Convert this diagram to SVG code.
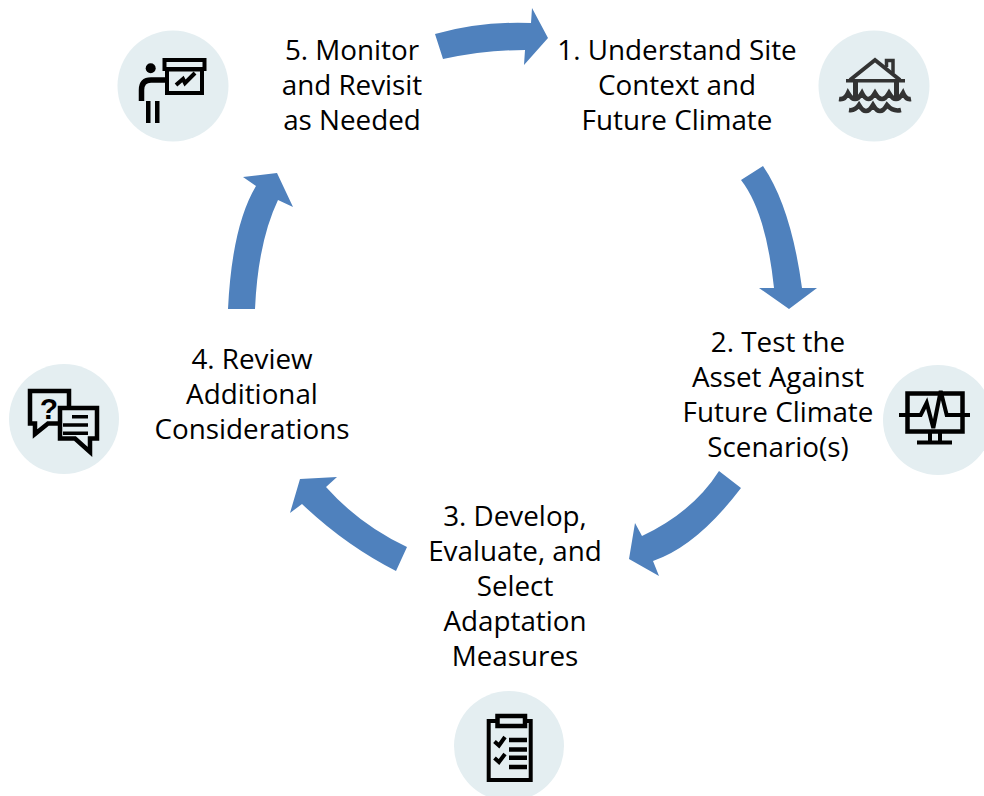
<svg xmlns="http://www.w3.org/2000/svg" width="984" height="796" viewBox="0 0 984 796">
<style>
.bg{fill:#e4eef1}
.arrow{fill:#4f81bd}
text.label{font-family:"Open Sans","Liberation Sans",sans-serif;font-size:27.8px;fill:#000;text-anchor:middle}
.ln{fill:none;stroke:#000;stroke-linejoin:miter}
.hs{fill:none;stroke:#333;stroke-linejoin:miter}
</style>
<rect width="984" height="796" fill="#fff"/>
<g id="connectors">
<path class="arrow" d="M435,34Q481,21 531,23L532,8L548,38L524,65L525,50Q486,50 443,59Z"/>
<path class="arrow" d="M763,166Q791,207 802,288H817L789,309L759,288H774Q766,212 741,180Z"/>
<path class="arrow" d="M741,488Q697,546 653,561L659,576L629,559L635,523L642,536Q693,512 719,471Z"/>
<path class="arrow" d="M407,547Q360,525 326,487L337,477L300,479L290,513L302,504Q345,545 396,571Z"/>
<path class="arrow" d="M228,309Q232,226 256,186L243,177L277,173L293,207L278,200Q258,242 255,309Z"/>
</g>
<g id="node1">
<circle class="bg" cx="874" cy="86" r="55.500"/>
<path class="hs" stroke-width="4" d="M850,80L875,60L900,80"/>
<rect x="846" y="79" width="59" height="3.500" fill="#333"/>
<path class="hs" stroke-width="5" d="M855.500,80V99M896.500,80V99"/>
<path d="M886.500,67V60.500H893V73" fill="none" stroke="#333" stroke-width="3.500"/>
<path class="hs" stroke-width="4.500" d="M839,99Q845,100 848,93Q855,105 862,93Q868,105 875,93Q882,105 889,93Q896,105 903,93Q906,100 911,99"/>
<path class="hs" stroke-width="4.500" d="M849,110Q855,111 859,105Q866,117 873,105Q880,117 887,105Q893,112 901,110"/>
<text class="label" x="677" y="60">1. Understand Site</text>
<text class="label" x="677" y="95">Context and</text>
<text class="label" x="677" y="130">Future Climate</text>
</g>
<g id="node2">
<circle class="bg" cx="938" cy="420" r="55"/>
<rect class="ln" x="907.500" y="393.500" width="55" height="38" stroke-width="4.500"/>
<path class="ln" stroke-width="4" d="M899,415H920.700L926.700,403L933.300,428L940.700,391L946.700,415H970"/>
<path d="M930,433V441M940,433V441" fill="none" stroke="#000" stroke-width="4"/>
<rect x="917" y="440.500" width="35" height="4" fill="#000"/>
<text class="label" x="778" y="352">2. Test the</text>
<text class="label" x="778" y="387">Asset Against</text>
<text class="label" x="778" y="422">Future Climate</text>
<text class="label" x="778" y="457">Scenario(s)</text>
</g>
<g id="node3">
<circle class="bg" cx="509" cy="746" r="55"/>
<rect class="ln" x="488.700" y="721" width="42" height="59" stroke-width="4"/>
<rect x="497.500" y="716" width="27.500" height="10" fill="#e4eef1" stroke="#000" stroke-width="4.500"/>
<path class="ln" stroke-width="4" d="M494.500,741.500L499,745.500L505,737M494.500,758L499,762L505,754"/>
<path class="ln" stroke-width="4.500" d="M509,740H527M509,749.500H527M509,757.700H527M509,767H527"/>
<text class="label" x="515" y="526">3. Develop,</text>
<text class="label" x="515" y="561">Evaluate, and</text>
<text class="label" x="515" y="596">Select</text>
<text class="label" x="515" y="631">Adaptation</text>
<text class="label" x="515" y="666">Measures</text>
</g>
<g id="node4">
<circle class="bg" cx="64" cy="419" r="55"/>
<path class="ln" stroke-width="4.500" d="M30,391H69V423.500H48L35,434V423.500H30Z"/>
<path d="M60,408H97V438.500H90V452L75,438.500H60Z" fill="#e4eef1" stroke="#000" stroke-width="4.500"/>
<path class="ln" stroke-width="3.500" d="M72,416.700H88M63,425H88M63,433.300H88"/>
<text x="49" y="419" font-family="Liberation Sans,sans-serif" font-weight="700" font-size="30" text-anchor="middle" fill="#000">?</text>
<text class="label" x="252" y="369">4. Review</text>
<text class="label" x="252" y="404">Additional</text>
<text class="label" x="252" y="439">Considerations</text>
</g>
<g id="node5">
<circle class="bg" cx="173" cy="86" r="55.500"/>
<circle cx="150.700" cy="68.300" r="5" fill="#000"/>
<path class="ln" stroke-width="5.500" d="M141.500,101V90Q141.500,80 151,80H168"/>
<rect x="146" y="101" width="4.500" height="22" fill="#000"/>
<rect x="155" y="101" width="4.500" height="22" fill="#000"/>
<rect class="ln" x="164.500" y="60" width="40" height="9" stroke-width="4"/>
<rect class="ln" x="167" y="69.500" width="35" height="23.500" stroke-width="4"/>
<path class="ln" stroke-width="4" d="M176,85L183,79L185,83L195,73"/>
<text class="label" x="352" y="60">5. Monitor</text>
<text class="label" x="352" y="95">and Revisit</text>
<text class="label" x="352" y="130">as Needed</text>
</g>
</svg>
